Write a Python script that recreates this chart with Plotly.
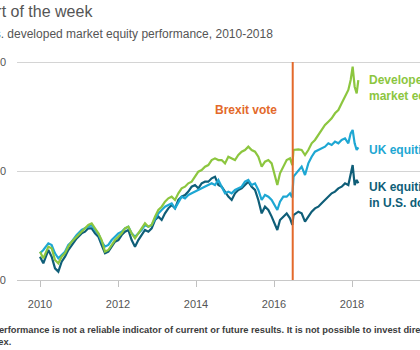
import plotly.graph_objects as go

# Decimal years (weekly-ish samples, 2010 - early 2018)
years = [
    2010.000, 2010.085, 2010.214, 2010.299, 2010.385, 2010.470, 2010.556, 2010.641, 2010.726, 2010.812,
    2010.940, 2011.068, 2011.154, 2011.239, 2011.325, 2011.410, 2011.496, 2011.581, 2011.667, 2011.752,
    2011.838, 2011.923, 2012.009, 2012.094, 2012.179, 2012.265, 2012.350, 2012.436, 2012.521, 2012.607,
    2012.692, 2012.778, 2012.863, 2012.949, 2013.034, 2013.120, 2013.205, 2013.291, 2013.376, 2013.462,
    2013.547, 2013.632, 2013.718, 2013.803, 2013.889, 2013.974, 2014.060, 2014.145, 2014.231, 2014.316,
    2014.402, 2014.487, 2014.573, 2014.658, 2014.744, 2014.829, 2014.915, 2015.000, 2015.085, 2015.171,
    2015.256, 2015.342, 2015.427, 2015.513, 2015.598, 2015.684, 2015.769, 2015.855, 2015.940, 2016.026,
    2016.085, 2016.154, 2016.239, 2016.325, 2016.410, 2016.453, 2016.470, 2016.500, 2016.624, 2016.709,
    2016.795, 2016.880, 2016.966, 2017.051, 2017.137, 2017.222, 2017.308, 2017.393, 2017.479, 2017.564,
    2017.650, 2017.735, 2017.821, 2017.906, 2017.966, 2018.017, 2018.068, 2018.120, 2018.162,
]

developed = [
    89.0, 79.8, 95.9, 93.6, 77.5, 72.9, 82.1, 86.7, 95.9, 102.7,
    109.6, 116.5, 121.1, 125.7, 128.0, 121.1, 114.2, 105.0, 89.0, 91.3,
    98.2, 105.0, 109.6, 114.2, 121.1, 123.4, 114.2, 107.3, 114.2, 121.1,
    128.0, 123.4, 125.7, 137.2, 146.3, 150.9, 157.8, 162.4, 164.7, 160.1,
    169.3, 176.1, 178.4, 183.0, 185.3, 192.2, 199.1, 201.4, 206.0, 208.2,
    215.1, 217.4, 215.1, 215.1, 210.5, 219.7, 217.4, 215.1, 222.0, 226.6,
    228.9, 233.5, 228.9, 226.6, 219.7, 206.0, 212.8, 215.1, 210.5, 192.2,
    180.7, 196.8, 206.0, 215.1, 217.4, 210.5, 208.2, 228.9, 229.8, 228.9,
    222.0, 228.9, 238.1, 242.7, 249.5, 256.4, 263.3, 267.9, 272.5, 279.4,
    283.9, 293.1, 302.3, 311.5, 325.2, 343.6, 316.0, 306.9, 325.2,
]

uk_gbp = [
    86.7, 91.3, 100.5, 98.2, 86.7, 79.8, 84.4, 89.0, 98.2, 102.7,
    111.9, 118.8, 121.1, 123.4, 125.7, 118.8, 114.2, 102.7, 95.9, 98.2,
    105.0, 109.6, 114.2, 116.5, 121.1, 123.4, 114.2, 109.6, 114.2, 118.8,
    125.7, 123.4, 125.7, 134.9, 141.7, 146.3, 150.9, 153.2, 155.5, 148.6,
    157.8, 164.7, 162.4, 167.0, 169.3, 171.6, 173.9, 176.1, 178.4, 180.7,
    183.0, 180.7, 187.6, 178.4, 169.3, 171.6, 169.3, 173.9, 176.1, 178.4,
    185.3, 187.6, 180.7, 183.0, 173.9, 160.1, 167.0, 164.7, 160.1, 150.9,
    146.3, 157.8, 164.7, 164.7, 169.3, 164.7, 164.7, 192.2, 201.4, 206.0,
    194.5, 210.5, 219.7, 226.6, 228.9, 231.2, 233.5, 238.1, 235.8, 240.4,
    238.1, 242.7, 244.9, 238.1, 251.8, 256.4, 238.1, 228.9, 232.6,
]

uk_usd = [
    82.1, 72.9, 91.3, 82.1, 66.1, 61.5, 75.2, 82.1, 91.3, 98.2,
    107.3, 114.2, 116.5, 121.1, 121.1, 114.2, 109.6, 98.2, 86.7, 89.0,
    95.9, 102.7, 105.0, 111.9, 116.5, 118.8, 105.0, 95.9, 105.0, 111.9,
    118.8, 116.5, 121.1, 132.6, 137.2, 132.6, 141.7, 148.6, 153.2, 148.6,
    160.1, 164.7, 167.0, 171.6, 178.4, 180.7, 176.1, 183.0, 185.3, 185.3,
    189.9, 192.2, 180.7, 178.4, 171.6, 164.7, 160.1, 169.3, 173.9, 176.1,
    180.7, 185.3, 178.4, 173.9, 160.1, 141.7, 150.9, 146.3, 137.2, 125.7,
    118.8, 132.6, 137.2, 141.7, 134.9, 128.0, 125.7, 139.4, 144.0, 141.7,
    130.3, 137.2, 144.0, 148.6, 150.9, 155.5, 160.1, 164.7, 169.3, 171.6,
    176.1, 178.4, 183.0, 180.7, 196.8, 208.2, 180.7, 187.6, 183.0,
]

x_ticks = [2010, 2012, 2014, 2016, 2018]
y_ticks = [50, 200, 350]
y_tick_labels = ["50", "200", "350"]
brexit_year = 2016.48

title_text = "Chart of the week"
subtitle_text = "U.K. vs. developed market equity performance, 2010-2018"
footer_text = ("Past performance is not a reliable indicator of current or future results. "
               "It is not possible to invest directly in<br>an index.")

GREEN = "#8CC63F"
BLUE = "#1EA7D3"
TEAL = "#0F5E78"
ORANGE = "#E3692B"
GREY = "#555555"
FONT = "Arial, Liberation Sans, sans-serif"

L, R, T, B = 17, 0, 55, 70
PH = 350 - T - B

fig = go.Figure()
for name, vals, col in [("UK equities in U.S. dollars", uk_usd, TEAL),
                        ("UK equities", uk_gbp, BLUE),
                        ("Developed market equities", developed, GREEN)]:
    fig.add_trace(go.Scatter(x=years, y=vals, mode="lines", name=name,
                             line=dict(color=col, width=2.2), hoverinfo="skip"))

fig.add_shape(type="line", xref="x", yref="y", x0=brexit_year, x1=brexit_year,
              y0=50, y1=350, line=dict(color=ORANGE, width=2))

def ann(text, x, y, xref, yref, size, color, xanchor="left", yanchor="middle",
        xshift=0, bold=False, align="left", family=FONT):
    fig.add_annotation(text=f"<b>{text}</b>" if bold else text, x=x, y=y, xref=xref, yref=yref,
                       xanchor=xanchor, yanchor=yanchor, xshift=xshift, showarrow=False,
                       align=align, font=dict(size=size, color=color, family=family))

def py(pixel_y):
    return 1 + (T - pixel_y) / PH

# Titles (partially off the left edge, as in the reference crop)
ann(title_text, 0, py(12), "paper", "paper", 16, GREY, xshift=-35 - L)
ann(subtitle_text, 0, py(34), "paper", "paper", 12, GREY, xshift=-40 - L)

# Footer
ann(footer_text, 0, py(336), "paper", "paper", 9.3, "#3c3c3c", xshift=-31 - L, bold=True)

# Series labels
ann("Developed<br>market equities", 0, 314.2, "paper", "y", 12, GREEN, xshift=367 - L, bold=True)
ann("UK equities", 0, 228.9, "paper", "y", 12, BLUE, xshift=367 - L, bold=True)
ann("UK equities<br>in U.S. dollars", 0, 167.0, "paper", "y", 12, TEAL, xshift=367 - L, bold=True)
ann("Brexit vote", brexit_year, 283.9, "x", "y", 12, ORANGE, xanchor="right", xshift=-14, bold=True)

px_per_year = 39.0
x0 = 2010 - (40 - L) / px_per_year
x1 = x0 + (420 - L - R) / px_per_year
y_top = 350 + (62 - T) * 150 / 109

fig.update_layout(
    width=420, height=350, margin=dict(l=L, r=R, t=T, b=B, autoexpand=False),
    paper_bgcolor="white", plot_bgcolor="white", showlegend=False,
    font=dict(family=FONT, color=GREY, size=11),
    xaxis=dict(range=[x0, x1], tickvals=x_ticks, ticktext=[str(v) for v in x_ticks],
               showgrid=False, zeroline=False, showline=True, linecolor="#C8C8C8", linewidth=1,
               ticks="outside", ticklen=6, tickcolor="#C0C0C0", tickwidth=1,
               tickfont=dict(size=11, color=GREY), ticklabelstandoff=8),
    yaxis=dict(range=[50, y_top], tickvals=y_ticks, ticktext=y_tick_labels,
               showgrid=True, gridcolor="#D4D4D4", gridwidth=1, zeroline=False,
               showline=False, ticks="", tickfont=dict(size=11, color=GREY),
               ticklabelstandoff=10),
)

fig.write_html("out.html")
